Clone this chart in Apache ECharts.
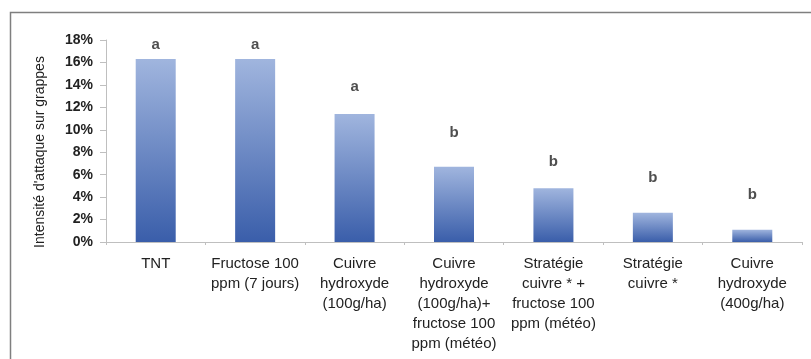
<!DOCTYPE html>
<html>
<head>
<meta charset="utf-8">
<script src="https://cdn.jsdelivr.net/npm/echarts@6/dist/echarts.min.js"></script>
<style>
html,body{margin:0;padding:0;background:#fff;}
#chart{width:811px;height:359px;}
</style>
</head>
<body>
<div id="chart"></div>
<script>
// traitements
var categories = [
    'TNT',
    'Fructose 100\nppm (7 jours)',
    'Cuivre\nhydroxyde\n(100g/ha)',
    'Cuivre\nhydroxyde\n(100g/ha)+\nfructose 100\nppm (météo)',
    'Stratégie\ncuivre * +\nfructose 100\nppm (météo)',
    'Stratégie\ncuivre *',
    'Cuivre\nhydroxyde\n(400g/ha)'
];
// intensité (%)
var intensite = [16.3, 16.3, 11.4, 6.7, 4.8, 2.6, 1.1];
// lettres de significativité et leur hauteur (%)
var lettres = ['a', 'a', 'a', 'b', 'b', 'b', 'b'];
var lettresY = [17.6, 17.6, 13.8, 9.7, 7.1, 5.7, 4.2];

var police = '"Liberation Sans", Arial, sans-serif';

var chart = echarts.init(document.getElementById('chart'));
var option = {
    animation: false,
    graphic: [{
        type: 'polyline',
        shape: { points: [[10.5, 400], [10.5, 12.5], [811, 12.5]] },
        style: { stroke: '#7f7f7f', lineWidth: 1.5, fill: null }
    }, {
        // titre de l'axe Y
        type: 'text',
        x: 40,
        y: 152,
        rotation: Math.PI / 2,
        style: {
            text: "Intensité d'attaque sur grappes",
            fill: '#222',
            font: '14px ' + police,
            align: 'center',
            verticalAlign: 'middle'
        }
    }],
    grid: { left: 106, right: 9, top: 40, bottom: 117 },
    xAxis: {
        type: 'category',
        data: categories,
        axisLine: { lineStyle: { color: '#bfbfbf' } },
        axisTick: { show: true, length: 3, lineStyle: { color: '#bfbfbf' } },
        axisLabel: {
            interval: 0,
            color: '#222',
            fontFamily: police,
            fontSize: 15,
            lineHeight: 20,
            margin: 12
        }
    },
    yAxis: {
        type: 'value',
        min: 0,
        max: 18,
        interval: 2,
        splitLine: { show: false },
        axisLine: { show: true, lineStyle: { color: '#bfbfbf' } },
        axisTick: { show: true, length: 6, lineStyle: { color: '#bfbfbf' } },
        axisLabel: {
            formatter: '{value}%',
            color: '#222',
            fontFamily: police,
            fontSize: 14,
            fontWeight: 'bold',
            margin: 13
        }
    },
    series: [{
        type: 'bar',
        data: intensite,
        barWidth: 40,
        itemStyle: {
            color: new echarts.graphic.LinearGradient(0, 0, 0, 1, [
                { offset: 0, color: '#a0b5de' },
                { offset: 1, color: '#3a5eaa' }
            ])
        }
    }, {
        type: 'scatter',
        symbolSize: 1,
        itemStyle: { color: 'rgba(0,0,0,0)' },
        data: lettresY.map(function (v, i) { return { value: [i, v], name: lettres[i] }; }),
        label: {
            show: true,
            position: 'inside',
            formatter: '{b}',
            color: '#222',
            fontFamily: police,
            fontSize: 15,
            fontWeight: 'bold'
        }
    }]
};
chart.setOption(option);
window.onresize = chart.resize;
</script>
</body>
</html>
